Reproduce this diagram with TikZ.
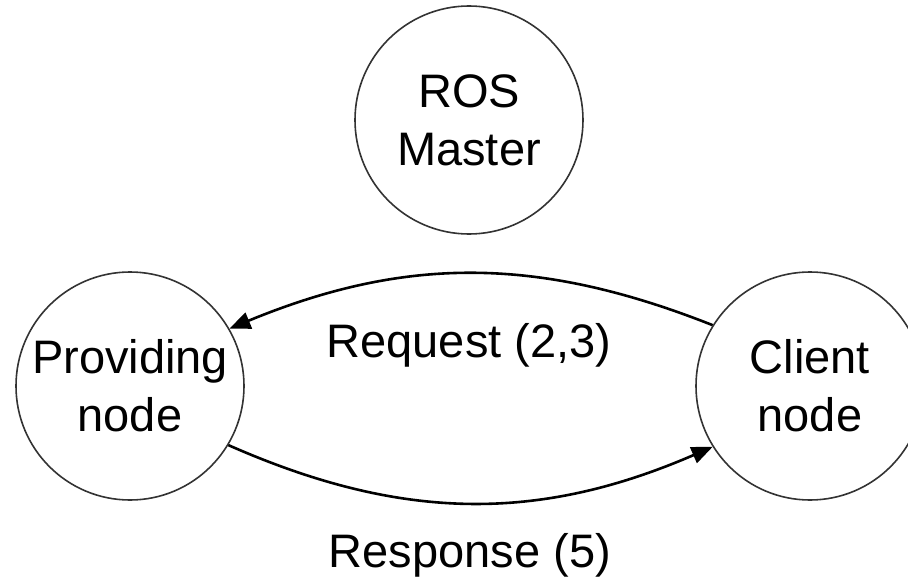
\documentclass[tikz,border=0pt]{standalone}
\usepackage{fontspec}
\setmainfont{Liberation Sans}
\usetikzlibrary{arrows.meta}
\begin{document}
\begin{tikzpicture}[x=1pt,y=-1pt,
  rosnode/.style={circle,draw=black!80,line width=1.6pt,minimum size=228pt,inner sep=0pt,align=center,
    font=\fontsize{47}{58}\selectfont},
  lbl/.style={anchor=base,inner sep=0pt,font=\fontsize{47}{58}\selectfont},
  flow/.style={line width=2.6pt,-{Triangle[length=21pt,width=17pt]}}]
\clip (0,0) rectangle (908,578);
\fill[white] (0,0) rectangle (908,578);
\node[rosnode] (master) at (469,120) {ROS\\Master};
\node[rosnode] (prov) at (130,386) {Providing\\node};
\node[rosnode] (client) at (810,386) {Client\\node};
\draw[flow] (client.148.7) to[bend right=22] (prov.30);
\draw[flow] (prov.-31.5) to[bend right=23.6] (client.-148);
\node[lbl] (req) at (469,357) {Request (2,3)};
\node[lbl] (resp) at (470,567) {Response (5)};
\end{tikzpicture}
\end{document}
